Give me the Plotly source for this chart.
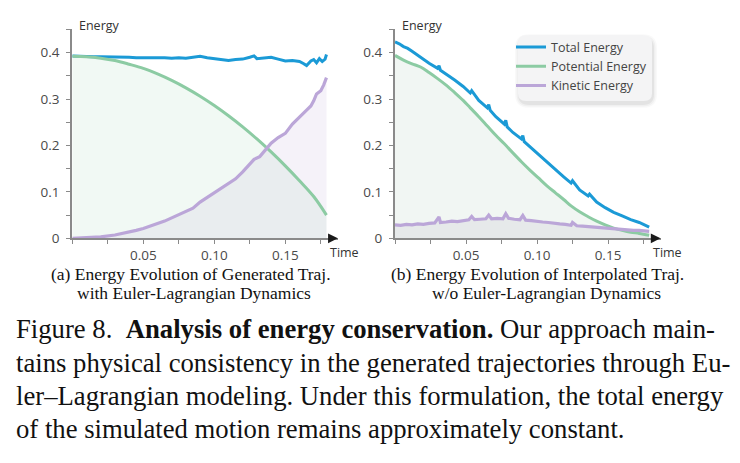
import plotly.graph_objects as go

# ---------------- data ----------------
# (a) generated trajectory with Euler-Lagrangian dynamics
a_total_t = [0.000, 0.005, 0.010, 0.015, 0.020, 0.025, 0.030, 0.035, 0.040, 0.045, 0.050, 0.055,
             0.060, 0.065, 0.070, 0.075, 0.080, 0.085, 0.090, 0.095, 0.100, 0.105, 0.110, 0.115,
             0.120, 0.125, 0.128, 0.130, 0.135, 0.140, 0.145, 0.150, 0.155, 0.160, 0.163, 0.165,
             0.168, 0.170, 0.172, 0.174, 0.176, 0.178, 0.179]
a_total = [0.393, 0.392, 0.392, 0.391, 0.391, 0.391, 0.390, 0.390, 0.390, 0.389, 0.389, 0.390,
           0.389, 0.389, 0.388, 0.389, 0.388, 0.390, 0.392, 0.389, 0.387, 0.385, 0.383, 0.385,
           0.386, 0.390, 0.393, 0.387, 0.389, 0.390, 0.386, 0.382, 0.383, 0.381, 0.376, 0.372,
           0.382, 0.385, 0.378, 0.387, 0.381, 0.386, 0.396]
a_pot_t = [0.00, 0.01, 0.02, 0.03, 0.04, 0.05, 0.06, 0.07, 0.08, 0.09, 0.10, 0.11, 0.12, 0.13,
           0.14, 0.15, 0.16, 0.17, 0.179]
a_pot = [0.392, 0.391, 0.388, 0.383, 0.375, 0.366, 0.354, 0.340, 0.324, 0.306, 0.286, 0.264,
         0.240, 0.214, 0.186, 0.156, 0.124, 0.090, 0.050]
a_kin_t = [0.000, 0.010, 0.020, 0.030, 0.040, 0.045, 0.050, 0.055, 0.060, 0.065, 0.070, 0.075,
           0.080, 0.085, 0.090, 0.095, 0.100, 0.105, 0.110, 0.115, 0.120, 0.125, 0.128, 0.132,
           0.136, 0.140, 0.145, 0.150, 0.155, 0.160, 0.165, 0.168, 0.170, 0.172, 0.175, 0.177, 0.179]
a_kin = [0.000, 0.001, 0.003, 0.007, 0.013, 0.017, 0.021, 0.026, 0.031, 0.037, 0.044, 0.051,
         0.057, 0.065, 0.078, 0.088, 0.097, 0.107, 0.116, 0.128, 0.143, 0.160, 0.170, 0.176,
         0.190, 0.205, 0.217, 0.226, 0.246, 0.262, 0.276, 0.285, 0.296, 0.311, 0.318, 0.330, 0.346]

# (b) interpolated trajectory without Euler-Lagrangian dynamics
b_total_t = [0.000, 0.003, 0.006, 0.009, 0.012, 0.018, 0.024, 0.030, 0.031, 0.032, 0.036, 0.042,
             0.048, 0.053, 0.054, 0.059, 0.065, 0.066, 0.067, 0.071, 0.077, 0.078, 0.079, 0.083,
             0.089, 0.090, 0.091, 0.095, 0.101, 0.107, 0.113, 0.119, 0.124, 0.125, 0.130, 0.136,
             0.137, 0.142, 0.148, 0.154, 0.160, 0.166, 0.172, 0.176, 0.179]
b_total = [0.423, 0.419, 0.413, 0.409, 0.403, 0.389, 0.377, 0.366, 0.372, 0.362, 0.354, 0.341,
           0.327, 0.313, 0.318, 0.297, 0.281, 0.288, 0.276, 0.262, 0.246, 0.254, 0.240, 0.228,
           0.214, 0.221, 0.208, 0.197, 0.182, 0.165, 0.147, 0.132, 0.119, 0.124, 0.104, 0.091,
           0.095, 0.078, 0.066, 0.056, 0.048, 0.040, 0.034, 0.029, 0.024]
b_pot_t = [0.000, 0.006, 0.012, 0.018, 0.024, 0.030, 0.036, 0.042, 0.048, 0.053, 0.059, 0.065,
           0.071, 0.077, 0.083, 0.089, 0.095, 0.101, 0.107, 0.113, 0.119, 0.124, 0.130, 0.136,
           0.142, 0.148, 0.154, 0.160, 0.166, 0.172, 0.179]
b_pot = [0.394, 0.384, 0.376, 0.369, 0.357, 0.344, 0.330, 0.314, 0.297, 0.281, 0.262, 0.242,
         0.222, 0.2035, 0.184, 0.165, 0.147, 0.130, 0.113, 0.098, 0.083, 0.0697, 0.057, 0.0465,
         0.037, 0.029, 0.022, 0.017, 0.013, 0.0105, 0.0065]
b_kin_t = [0.000, 0.004, 0.008, 0.012, 0.016, 0.020, 0.024, 0.028, 0.031, 0.032, 0.036, 0.040,
           0.044, 0.048, 0.052, 0.054, 0.056, 0.060, 0.064, 0.066, 0.068, 0.072, 0.076, 0.078,
           0.080, 0.084, 0.088, 0.090, 0.092, 0.096, 0.100, 0.104, 0.108, 0.112, 0.116, 0.120,
           0.124, 0.125, 0.128, 0.132, 0.136, 0.140, 0.144, 0.148, 0.152, 0.156, 0.160, 0.164,
           0.168, 0.172, 0.176, 0.179]
b_kin = [0.029, 0.028, 0.030, 0.029, 0.031, 0.030, 0.032, 0.033, 0.046, 0.034, 0.035, 0.037,
         0.036, 0.038, 0.040, 0.047, 0.040, 0.041, 0.042, 0.050, 0.042, 0.043, 0.042, 0.053,
         0.043, 0.041, 0.040, 0.049, 0.039, 0.038, 0.036, 0.035, 0.034, 0.032, 0.031, 0.030,
         0.028, 0.034, 0.027, 0.026, 0.025, 0.023, 0.022, 0.021, 0.021, 0.020, 0.019, 0.018,
         0.017, 0.017, 0.016, 0.015]

x_tickvals = [0, 0.025, 0.05, 0.075, 0.10, 0.125, 0.15, 0.175]
x_ticktext = ["", "", "0.05", "", "0.10", "", "0.15", ""]
y_tickvals = [0, 0.05, 0.1, 0.15, 0.2, 0.25, 0.3, 0.35, 0.4, 0.45]
y_ticktext = ["0", "", "0.1", "", "0.2", "", "0.3", "", "0.4", ""]

names = ["Total Energy", "Potential Energy", "Kinetic Energy"]
C_TOTAL = "#1b9ad6"
C_POT = "#8ccba3"
C_KIN = "#bba6d8"

# ---------------- geometry helpers ----------------
W, H = 740, 463
def fx(px):
    return px / W
def fy(py):
    return 1 - py / H

fig = go.Figure()

def add_panel(xa, ya, tt, tv, pt, pv, kt, kv, legend, fill_pot, fill_kin):
    fig.add_trace(go.Scatter(x=pt, y=pv, xaxis=xa, yaxis=ya, mode="lines", line=dict(width=0),
                             fill="tozeroy", fillcolor=fill_pot, showlegend=False, hoverinfo="skip"))
    fig.add_trace(go.Scatter(x=kt, y=kv, xaxis=xa, yaxis=ya, mode="lines", line=dict(width=0),
                             fill="tozeroy", fillcolor=fill_kin, showlegend=False, hoverinfo="skip"))
    fig.add_trace(go.Scatter(x=tt, y=tv, xaxis=xa, yaxis=ya, mode="lines", name=names[0],
                             line=dict(color=C_TOTAL, width=3), showlegend=legend))
    fig.add_trace(go.Scatter(x=pt, y=pv, xaxis=xa, yaxis=ya, mode="lines", name=names[1],
                             line=dict(color=C_POT, width=3, shape="spline"), showlegend=legend))
    fig.add_trace(go.Scatter(x=kt, y=kv, xaxis=xa, yaxis=ya, mode="lines", name=names[2],
                             line=dict(color=C_KIN, width=3.2), showlegend=legend))

add_panel("x", "y", a_total_t, a_total, a_pot_t, a_pot, a_kin_t, a_kin, False,
          "rgba(140,204,164,0.12)", "rgba(187,166,216,0.15)")
add_panel("x2", "y2", b_total_t, b_total, b_pot_t, b_pot, b_kin_t, b_kin, True,
          "rgba(150,185,160,0.13)", "rgba(160,150,175,0.13)")

AX_COL = "#8a8a8a"
TICK_FONT = dict(family="Open Sans", size=13.5, color="#4a4a4a")
XMAX = 0.187

def xaxis_cfg(x0, x1, anchor):
    return dict(domain=[fx(x0), fx(x1)], range=[0, XMAX], anchor=anchor, showline=True,
                linecolor=AX_COL, linewidth=2, ticks="outside", ticklen=4, tickwidth=1.3,
                tickcolor=AX_COL, tickvals=x_tickvals, ticktext=x_ticktext, tickfont=TICK_FONT,
                showgrid=False, zeroline=False, fixedrange=True)

def yaxis_cfg(anchor):
    return dict(domain=[fy(243), fy(30)], range=[0, 0.45], anchor=anchor, showline=True,
                linecolor=AX_COL, linewidth=2, ticks="outside", ticklen=4, tickwidth=1.3,
                tickcolor=AX_COL, tickvals=y_tickvals, ticktext=y_ticktext, tickfont=TICK_FONT,
                ticklabelstandoff=4, showgrid=False, zeroline=False, fixedrange=True)

LX0 = 72.3
RX0 = 395.0
PXW = XMAX * 1420

annotations = []
LABEL_FONT = dict(family="Open Sans", size=12.5, color="#333")
for xa, ya, x0 in (("x", "y", LX0), ("x2", "y2", RX0)):
    annotations.append(dict(x=fx(x0 + 5), y=fy(26), xref="paper", yref="paper", text="Energy",
                            showarrow=False, xanchor="left", yanchor="middle", font=LABEL_FONT))
    annotations.append(dict(x=fx(x0 + PXW + 7), y=fy(257), xref="paper", yref="paper", text="Time",
                            showarrow=False, xanchor="center", yanchor="middle", font=LABEL_FONT))
    annotations.append(dict(x=XMAX, y=0, ax=XMAX - 0.006, ay=0, xref=xa, yref=ya, axref=xa, ayref=ya,
                            text="", showarrow=True, arrowhead=2, arrowsize=1.3, arrowwidth=1.5,
                            arrowcolor="#1a1a1a"))

CAP_FONT = dict(family="Liberation Serif", size=17.5, color="#111")
captions = [
    (191, 279, "(a) Energy Evolution of Generated Traj."),
    (194, 299, "with Euler-Lagrangian Dynamics"),
    (537, 279, "(b) Energy Evolution of Interpolated Traj."),
    (546, 299, "w/o Euler-Lagrangian Dynamics"),
]
for cx, cy, txt in captions:
    annotations.append(dict(x=fx(cx), y=fy(cy), xref="paper", yref="paper", text=txt,
                            showarrow=False, xanchor="center", yanchor="middle", font=CAP_FONT,
                            borderpad=0))

PARA_FONT = dict(family="Liberation Serif", size=26.7, color="#111")
para = [
    (336, "Figure 8.  <b>Analysis of energy conservation.</b> Our approach main-"),
    (370, "tains physical consistency in the generated trajectories through Eu-"),
    (404, "ler–Lagrangian modeling. Under this formulation, the total energy"),
    (438, "of the simulated motion remains approximately constant."),
]
for cy, txt in para:
    annotations.append(dict(x=fx(15), y=fy(cy), xref="paper", yref="paper", text=txt,
                            showarrow=False, xanchor="left", yanchor="middle", font=PARA_FONT,
                            borderpad=0))

# legend background (rounded box with soft shadow)
def rrect(x0, y0, x1, y1, r):
    X0, X1 = fx(x0), fx(x1)
    Y0, Y1 = fy(y0), fy(y1)
    rx, ry = r / W, r / H
    return (f"M {X0+rx},{Y0} L {X1-rx},{Y0} Q {X1},{Y0} {X1},{Y0-ry} "
            f"L {X1},{Y1+ry} Q {X1},{Y1} {X1-rx},{Y1} L {X0+rx},{Y1} "
            f"Q {X0},{Y1} {X0},{Y1+ry} L {X0},{Y0-ry} Q {X0},{Y0} {X0+rx},{Y0} Z")

shapes = []
for off, alpha in ((5, 0.025), (3.5, 0.035), (2, 0.05)):
    shapes.append(dict(type="path", xref="paper", yref="paper",
                       path=rrect(518 - off + 2, 36 - off + 4, 652 + off, 103 + off + 2, 9 + off),
                       fillcolor=f"rgba(0,0,0,{alpha})", line=dict(width=0), layer="above"))
shapes.append(dict(type="path", xref="paper", yref="paper", path=rrect(518, 36, 652, 103, 8),
                   fillcolor="#f4f4f5", line=dict(width=0), layer="above"))

fig.update_layout(
    width=W, height=H, autosize=False,
    margin=dict(l=0, r=0, t=0, b=0, pad=0),
    paper_bgcolor="white", plot_bgcolor="white",
    xaxis=xaxis_cfg(LX0, LX0 + PXW, "y"),
    yaxis=yaxis_cfg("x"),
    xaxis2=xaxis_cfg(RX0, RX0 + PXW, "y2"),
    yaxis2=yaxis_cfg("x2"),
    legend=dict(x=fx(511), y=fy(33), xanchor="left", yanchor="top", bgcolor="rgba(0,0,0,0)",
                font=dict(family="Open Sans", size=12.5, color="#444"), tracegroupgap=0,
                itemclick=False, itemdoubleclick=False),
    annotations=annotations,
    shapes=shapes,
    showlegend=True,
)

fig.write_html("out.html")
